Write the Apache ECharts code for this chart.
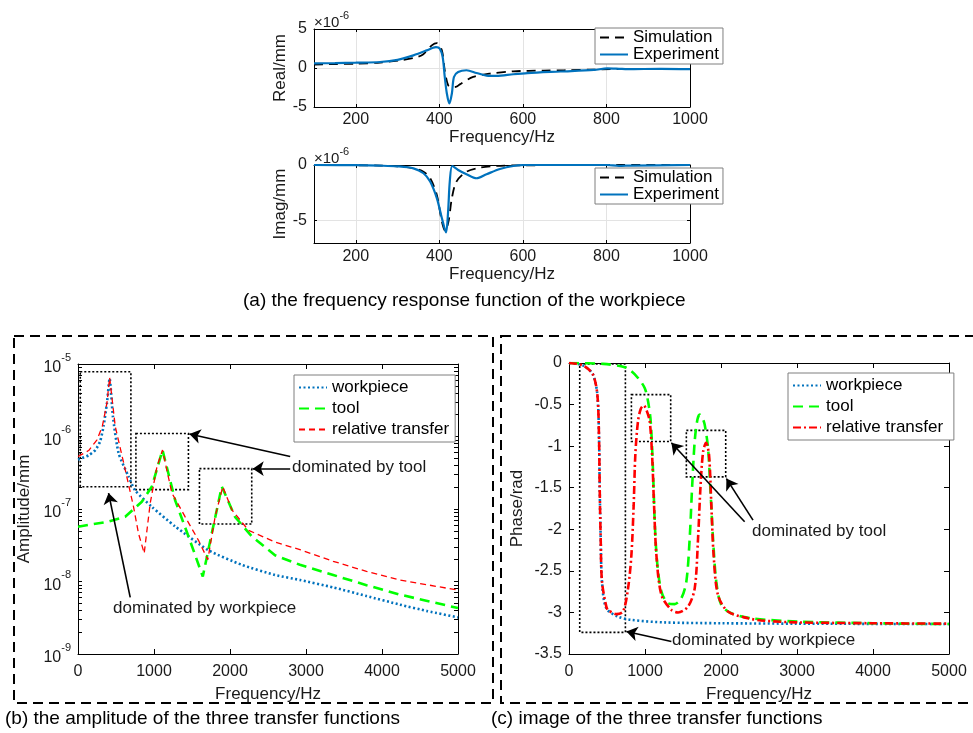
<!DOCTYPE html>
<html>
<head>
<meta charset="utf-8">
<script src="https://cdn.jsdelivr.net/npm/echarts@6/dist/echarts.min.js"></script>
<style>html,body{margin:0;padding:0;background:#fff}#main{width:973px;height:733px}</style>
</head>
<body>
<div id="main"></div>
<script>
// (a) real part, unit 1e-6 mm
var realSim = [[100,0.45],[150,0.5],[200,0.55],[258,0.7],[307,1.0],[340,1.3],[360,1.7],[382,2.9],[394,3.19],[406,2.26],[413,-0.3],[421,-2.2],[430,-2.45],[441,-2.4],[449,-2.1],[481,-1.15],[521,-0.72],[577,-0.42],[650,-0.33],[700,-0.28],[770,-0.2],[850,-0.12],[920,-0.1],[1000,-0.1]];
var realExp = [[100,0.6],[150,0.62],[200,0.68],[258,0.77],[300,1.05],[338,1.62],[370,2.26],[385,2.6],[392,2.68],[401,2.48],[408,1.4],[413,-1.15],[418,-3.27],[424,-4.55],[430,-3.27],[435,-1.15],[445,-0.51],[465,-0.29],[489,-0.64],[513,-0.97],[537,-1.02],[577,-0.8],[611,-0.65],[690,-0.45],[770,-0.25],[802,-0.05],[830,-0.1],[850,-0.15],[930,-0.1],[1000,-0.15]];
// (a) imaginary part, unit 1e-6 mm
var imagSim = [[100,0],[200,-0.02],[258,-0.05],[300,-0.12],[338,-0.3],[362,-0.6],[378,-1.19],[394,-2.68],[406,-5.06],[414,-5.9],[422,-5.06],[430,-2.98],[441,-1.49],[465,-0.6],[497,-0.24],[537,-0.08],[600,-0.03],[700,-0.01],[800,0],[1000,0]];
var imagExp = [[100,0],[200,-0.02],[258,-0.06],[300,-0.12],[338,-0.3],[362,-0.74],[378,-1.49],[394,-2.98],[406,-4.76],[416,-6.05],[421,-4.17],[425,-1.49],[431,-0.09],[445,-0.45],[465,-0.83],[489,-1.19],[513,-0.83],[545,-0.36],[577,-0.09],[610,0],[800,0],[830,-0.08],[860,-0.05],[1000,0]];
var freqTicksA = [200,400,600,800,1000];

// (b) amplitude, mm
var workAmp = [[0,4.8e-7],[140,5.5e-7],[227,6.5e-7],[290,8.5e-7],[336,1.38e-6],[381,2.9e-6],[416,6.3e-6],[460,1.86e-6],[534,5.9e-7],[665,2.8e-7],[753,1.8e-7],[972,1.07e-7],[1278,5.75e-8],[1716,2.7e-8],[2154,1.7e-8],[2592,1.23e-8],[2920,1.05e-8],[3358,8.3e-9],[3796,6.3e-9],[4234,4.8e-9],[4600,3.9e-9],[5000,3.2e-9]];
var toolAmp = [[0,5.7e-8],[403,6.7e-8],[621,7.8e-8],[840,1.26e-7],[972,2.04e-7],[1112,6.5e-7],[1278,1.32e-7],[1453,4.2e-8],[1642,1.17e-8],[1760,4.6e-8],[1892,2.04e-7],[2066,7.8e-8],[2286,4.2e-8],[2592,2.3e-8],[2920,1.7e-8],[3358,1.23e-8],[3796,8.9e-9],[4234,6.6e-9],[5000,4.3e-9]];
var relAmp = [[0,5.3e-7],[140,6.4e-7],[250,9e-7],[320,1.38e-6],[381,2.9e-6],[416,6.5e-6],[490,1.38e-6],[621,3.5e-7],[731,1.07e-7],[796,4.6e-8],[871,2.45e-8],[950,1.2e-7],[1038,3.8e-7],[1112,6.5e-7],[1235,1.66e-7],[1410,7.8e-8],[1585,3.7e-8],[1708,2.0e-8],[1804,7.8e-8],[1905,2.04e-7],[2023,9.8e-8],[2242,5.1e-8],[2592,3.5e-8],[2920,2.75e-8],[3358,1.9e-8],[3796,1.38e-8],[4234,1.05e-8],[5000,7.6e-9]];
var ampDecades = [1e-9,1e-8,1e-7,1e-6,1e-5];

// (c) phase, rad
var workPhase = [[0,0],[100,-0.01],[207,-0.04],[316,-0.14],[373,-0.38],[395,-0.9],[404,-1.51],[417,-2.11],[434,-2.63],[491,-2.95],[645,-3.05],[820,-3.09],[1259,-3.12],[2000,-3.13],[3000,-3.135],[5000,-3.14]];
var toolPhase = [[0,0],[450,-0.01],[733,-0.05],[821,-0.10],[908,-0.18],[996,-0.30],[1040,-0.46],[1075,-0.70],[1106,-1.31],[1128,-1.91],[1159,-2.39],[1216,-2.75],[1303,-2.89],[1391,-2.90],[1478,-2.83],[1544,-2.63],[1588,-2.11],[1619,-1.51],[1654,-0.94],[1690,-0.68],[1720,-0.62],[1755,-0.66],[1785,-0.74],[1829,-1.02],[1860,-1.51],[1895,-2.11],[1938,-2.63],[2004,-2.91],[2136,-3.01],[2399,-3.07],[3000,-3.11],[4000,-3.13],[5000,-3.14]];
var relPhase = [[0,0],[100,-0.01],[207,-0.04],[316,-0.14],[373,-0.38],[395,-0.9],[404,-1.51],[417,-2.11],[434,-2.63],[491,-2.93],[513,-2.97],[623,-3.02],[711,-2.99],[777,-2.71],[821,-2.31],[851,-1.71],[873,-1.10],[908,-0.70],[945,-0.55],[983,-0.51],[1025,-0.58],[1062,-0.70],[1093,-1.10],[1119,-1.71],[1150,-2.31],[1216,-2.79],[1347,-2.97],[1435,-3.0],[1566,-2.93],[1654,-2.71],[1698,-2.11],[1729,-1.51],[1764,-1.07],[1803,-0.96],[1842,-1.10],[1873,-1.71],[1903,-2.31],[1960,-2.79],[2092,-2.99],[2355,-3.07],[2574,-3.10],[3000,-3.12],[4000,-3.13],[5000,-3.135]];

var FONT = 'Liberation Sans, Arial, sans-serif';
var TXT = '#1a1a1a';

// minor ticks for the log axis
var ampTicks = [];
for (var i = 0; i < ampDecades.length; i++) {
    for (var m = 1; m <= 9; m++) {
        if (i == ampDecades.length - 1 && m > 1) break;
        ampTicks.push(m * ampDecades[i]);
    }
}

var plain = function (v) { return String(v); };

function xAx(g, min, max, o) {
    o = o || {};
    var a = {
        gridIndex: g, type: 'value', min: min, max: max, position: o.top ? 'top' : 'bottom',
        axisLine: {show: true, onZero: false, lineStyle: {color: '#000', width: 1}},
        axisTick: {show: true, inside: true, length: o.tl || 5, lineStyle: {color: '#000'}},
        axisLabel: {show: !o.top, color: TXT, fontSize: 16, fontFamily: FONT, margin: o.lm || 8, formatter: plain},
        splitLine: {show: !!o.grid && !o.top, lineStyle: {color: '#e3e3e3', width: 1}}
    };
    if (o.interval) a.interval = o.interval;
    if (o.ticks) { a.axisTick.customValues = o.ticks; a.axisLabel.customValues = o.ticks; }
    if (!o.top && o.name) {
        a.name = o.name; a.nameLocation = 'middle'; a.nameGap = o.gap;
        a.nameTextStyle = {color: TXT, fontSize: 17, fontFamily: FONT};
    }
    return a;
}
function yAx(g, min, max, o) {
    o = o || {};
    var a = {
        gridIndex: g, type: o.log ? 'log' : 'value', min: min, max: max, position: o.right ? 'right' : 'left',
        axisLine: {show: true, onZero: false, lineStyle: {color: '#000', width: 1}},
        axisTick: {show: true, inside: true, length: o.tl || 5, lineStyle: {color: '#000'}},
        axisLabel: {show: !o.right, color: TXT, fontSize: 16, fontFamily: FONT, margin: o.lm || 7, formatter: o.fmt || plain},
        splitLine: {show: !!o.grid && !o.right, lineStyle: {color: '#e3e3e3', width: 1}}
    };
    if (o.log) a.logBase = 10;
    if (o.interval) a.interval = o.interval;
    if (o.ticks) { a.axisTick.customValues = o.ticks; }
    if (o.labels) { a.axisLabel.customValues = o.labels; }
    if (o.rich) a.axisLabel.rich = o.rich;
    if (!o.right && o.name) {
        a.name = o.name; a.nameLocation = 'middle'; a.nameGap = o.gap; a.nameRotate = 90;
        a.nameTextStyle = {color: TXT, fontSize: 17, fontFamily: FONT};
    }
    return a;
}

var logFmt = function (v) { return '{b|10}{s|' + Math.round(Math.log10(v)) + '}'; };
var logRich = {
    b: {fontSize: 16, fontFamily: FONT, color: TXT, lineHeight: 24, verticalAlign: 'bottom'},
    s: {fontSize: 11, fontFamily: FONT, color: TXT, lineHeight: 12, verticalAlign: 'top'}
};
var expRich = {
    m: {fontSize: 15, fontFamily: FONT, fill: TXT, lineHeight: 20, verticalAlign: 'bottom'},
    s: {fontSize: 11, fontFamily: FONT, fill: TXT, lineHeight: 11, verticalAlign: 'top'}
};

var arrowLine = {
    silent: true, symbol: ['none', 'arrow'], symbolSize: 11, animation: false,
    lineStyle: {color: '#000', width: 1.6, type: 'solid'},
    label: {show: false}, emphasis: {disabled: true}
};
function boxes(list) {
    return {
        silent: true, label: {show: false}, emphasis: {disabled: true},
        itemStyle: {color: 'rgba(0,0,0,0)', borderColor: '#000', borderWidth: 1.6, borderType: [2, 2]},
        data: list
    };
}

var blueDot = {color: '#0072BD', width: 2.6, type: [2, 2.5]};
var greenDash = {color: '#00FF00', width: 2.6, type: [10, 6]};

var chart = echarts.init(document.getElementById('main'));
var option = {
    animation: false,
    backgroundColor: '#fff',
    grid: [
        {left: 314, right: 283, top: 29, height: 78},
        {left: 314, right: 283, top: 165, height: 78},
        {left: 78, right: 515, top: 364, height: 290},
        {left: 569, right: 24, top: 363, height: 291}
    ],
    xAxis: [
        xAx(0, 100, 1000, {ticks: freqTicksA, grid: true, tl: 3, lm: 5, name: 'Frequency/Hz', gap: 21}),
        xAx(0, 100, 1000, {ticks: freqTicksA, top: true, tl: 3}),
        xAx(1, 100, 1000, {ticks: freqTicksA, grid: true, tl: 3, lm: 6, name: 'Frequency/Hz', gap: 22}),
        xAx(1, 100, 1000, {ticks: freqTicksA, top: true, tl: 3}),
        xAx(2, 0, 5000, {interval: 1000, lm: 10, name: 'Frequency/Hz', gap: 32}),
        xAx(2, 0, 5000, {interval: 1000, top: true}),
        xAx(3, 0, 5000, {interval: 1000, lm: 10, name: 'Frequency/Hz', gap: 32}),
        xAx(3, 0, 5000, {interval: 1000, top: true})
    ],
    yAxis: [
        yAx(0, -5, 5, {interval: 5, grid: true, tl: 3, name: 'Real/mm', gap: 24}),
        yAx(0, -5, 5, {interval: 5, right: true, tl: 3}),
        yAx(1, -7, 0, {ticks: [-5, 0], labels: [-5, 0], grid: true, tl: 3, name: 'Imag/mm', gap: 24}),
        yAx(1, -7, 0, {ticks: [-5, 0], right: true, tl: 3}),
        yAx(2, 1e-9, 1e-5, {log: true, ticks: ampTicks, labels: ampDecades, fmt: logFmt, rich: logRich, tl: 4, name: 'Amplitude/mm', gap: 45}),
        yAx(2, 1e-9, 1e-5, {log: true, ticks: ampTicks, right: true, tl: 4}),
        yAx(3, -3.5, 0, {interval: 0.5, tl: 5, name: 'Phase/rad', gap: 43}),
        yAx(3, -3.5, 0, {interval: 0.5, right: true, tl: 5})
    ],
    legend: [
        {data: ['Simulation', 'Experiment'], left: 595, top: 28},
        {data: ['Simulation', 'Experiment'], left: 595, top: 168},
        {data: ['workpiece', 'tool', 'relative transfer'], left: 294, top: 375, itemGap: 4, padding: [4, 6, 4, 4]},
        {data: ['workpiece', 'tool', 'relative transfer '], left: 788, top: 373, itemGap: 4, padding: [4, 6, 4, 4]}
    ].map(function (l) {
        return Object.assign({
            orient: 'vertical', itemWidth: 28, itemHeight: 12, itemGap: 0, padding: [1, 4, 1, 4],
            borderColor: '#7f7f7f', borderWidth: 1, backgroundColor: '#fff', selectedMode: false,
            itemStyle: {opacity: 0},
            textStyle: {color: '#000', fontSize: 17, fontFamily: FONT}
        }, l);
    }),
    series: [
        {name: 'Simulation', type: 'line', xAxisIndex: 0, yAxisIndex: 0, data: realSim, symbol: 'none', smooth: 0.3,
            lineStyle: {color: '#000', width: 1.8, type: [9, 6]}, itemStyle: {color: '#000'}},
        {name: 'Experiment', type: 'line', xAxisIndex: 0, yAxisIndex: 0, data: realExp, symbol: 'none', smooth: 0.3,
            lineStyle: {color: '#0072BD', width: 2.2}, itemStyle: {color: '#0072BD'}},
        {name: 'Simulation', type: 'line', xAxisIndex: 2, yAxisIndex: 2, data: imagSim, symbol: 'none', smooth: 0.3,
            lineStyle: {color: '#000', width: 1.8, type: [9, 6]}, itemStyle: {color: '#000'}},
        {name: 'Experiment', type: 'line', xAxisIndex: 2, yAxisIndex: 2, data: imagExp, symbol: 'none', smooth: 0.3,
            lineStyle: {color: '#0072BD', width: 2.2}, itemStyle: {color: '#0072BD'}},

        {name: 'workpiece', type: 'line', xAxisIndex: 4, yAxisIndex: 4, data: workAmp, symbol: 'none', smooth: 0.2,
            lineStyle: blueDot, itemStyle: {color: '#0072BD'},
            markArea: boxes([
                [{coord: [30, 7.8e-6]}, {coord: [696, 2.03e-7]}],
                [{coord: [762, 1.1e-6]}, {coord: [1453, 1.85e-7]}],
                [{coord: [1598, 3.6e-7]}, {coord: [2286, 6.2e-8]}]
            ]),
            markLine: Object.assign({data: [
                [{coord: [2792, 5.3e-7]}, {coord: [1466, 1.08e-6]}],
                [{coord: [2792, 3.6e-7]}, {coord: [2299, 3.6e-7]}],
                [{coord: [687, 6.05e-9]}, {coord: [402, 1.66e-7]}]
            ]}, arrowLine)},
        {name: 'tool', type: 'line', xAxisIndex: 4, yAxisIndex: 4, data: toolAmp, symbol: 'none',
            lineStyle: greenDash, itemStyle: {color: '#00FF00'}},
        {name: 'relative transfer', type: 'line', xAxisIndex: 4, yAxisIndex: 4, data: relAmp, symbol: 'none',
            lineStyle: {color: '#FF0000', width: 1.3, type: [6, 4]}, itemStyle: {color: '#FF0000'}},

        {name: 'workpiece', type: 'line', xAxisIndex: 6, yAxisIndex: 6, data: workPhase, symbol: 'none', smooth: 0.3,
            lineStyle: blueDot, itemStyle: {color: '#0072BD'},
            markArea: boxes([
                [{coord: [141, -0.012]}, {coord: [742, -3.24]}],
                [{coord: [821, -0.38]}, {coord: [1338, -0.945]}],
                [{coord: [1544, -0.81]}, {coord: [2062, -1.37]}]
            ]),
            markLine: Object.assign({data: [
                [{coord: [2311, -1.91]}, {coord: [1347, -0.96]}],
                [{coord: [2421, -1.89]}, {coord: [2071, -1.39]}],
                [{coord: [1347, -3.35]}, {coord: [755, -3.23]}]
            ]}, arrowLine)},
        {name: 'tool', type: 'line', xAxisIndex: 6, yAxisIndex: 6, data: toolPhase, symbol: 'none', smooth: 0.3,
            lineStyle: greenDash, itemStyle: {color: '#00FF00'}},
        {name: 'relative transfer ', type: 'line', xAxisIndex: 6, yAxisIndex: 6, data: relPhase, symbol: 'none', smooth: 0.3,
            lineStyle: {color: '#FF0000', width: 2.6, type: [8, 3, 2, 3]}, itemStyle: {color: '#FF0000'}}
    ],
    graphic: [
        {type: 'rect', shape: {x: 14, y: 336, width: 479, height: 367}, silent: true,
            style: {fill: 'none', stroke: '#000', lineWidth: 2, lineDash: [10, 6]}},
        {type: 'rect', shape: {x: 501, y: 336, width: 490, height: 367}, silent: true,
            style: {fill: 'none', stroke: '#000', lineWidth: 2, lineDash: [10, 6]}},
        {type: 'text', left: 243, top: 291, silent: true,
            style: {text: '(a) the frequency response function of the workpiece', fill: '#000', fontSize: 19, fontFamily: FONT}},
        {type: 'text', left: 5, top: 709, silent: true,
            style: {text: '(b) the amplitude of the three transfer functions', fill: '#000', fontSize: 19, fontFamily: FONT}},
        {type: 'text', left: 491, top: 709, silent: true,
            style: {text: '(c) image of the three transfer functions', fill: '#000', fontSize: 19, fontFamily: FONT}},
        {type: 'text', left: 292, top: 459, silent: true,
            style: {text: 'dominated by tool', fill: TXT, fontSize: 17, fontFamily: FONT}},
        {type: 'text', left: 113, top: 600, silent: true,
            style: {text: 'dominated by workpiece', fill: TXT, fontSize: 17, fontFamily: FONT}},
        {type: 'text', left: 752, top: 523, silent: true,
            style: {text: 'dominated by tool', fill: TXT, fontSize: 17, fontFamily: FONT}},
        {type: 'text', left: 672, top: 632, silent: true,
            style: {text: 'dominated by workpiece', fill: TXT, fontSize: 17, fontFamily: FONT}},
        {type: 'text', left: 314, top: 10, silent: true,
            style: {rich: expRich, text: '{m|\u00d710}{s|-6}'}},
        {type: 'text', left: 314, top: 146, silent: true,
            style: {rich: expRich, text: '{m|\u00d710}{s|-6}'}}
    ]
};
chart.setOption(option);
</script>
</body>
</html>
